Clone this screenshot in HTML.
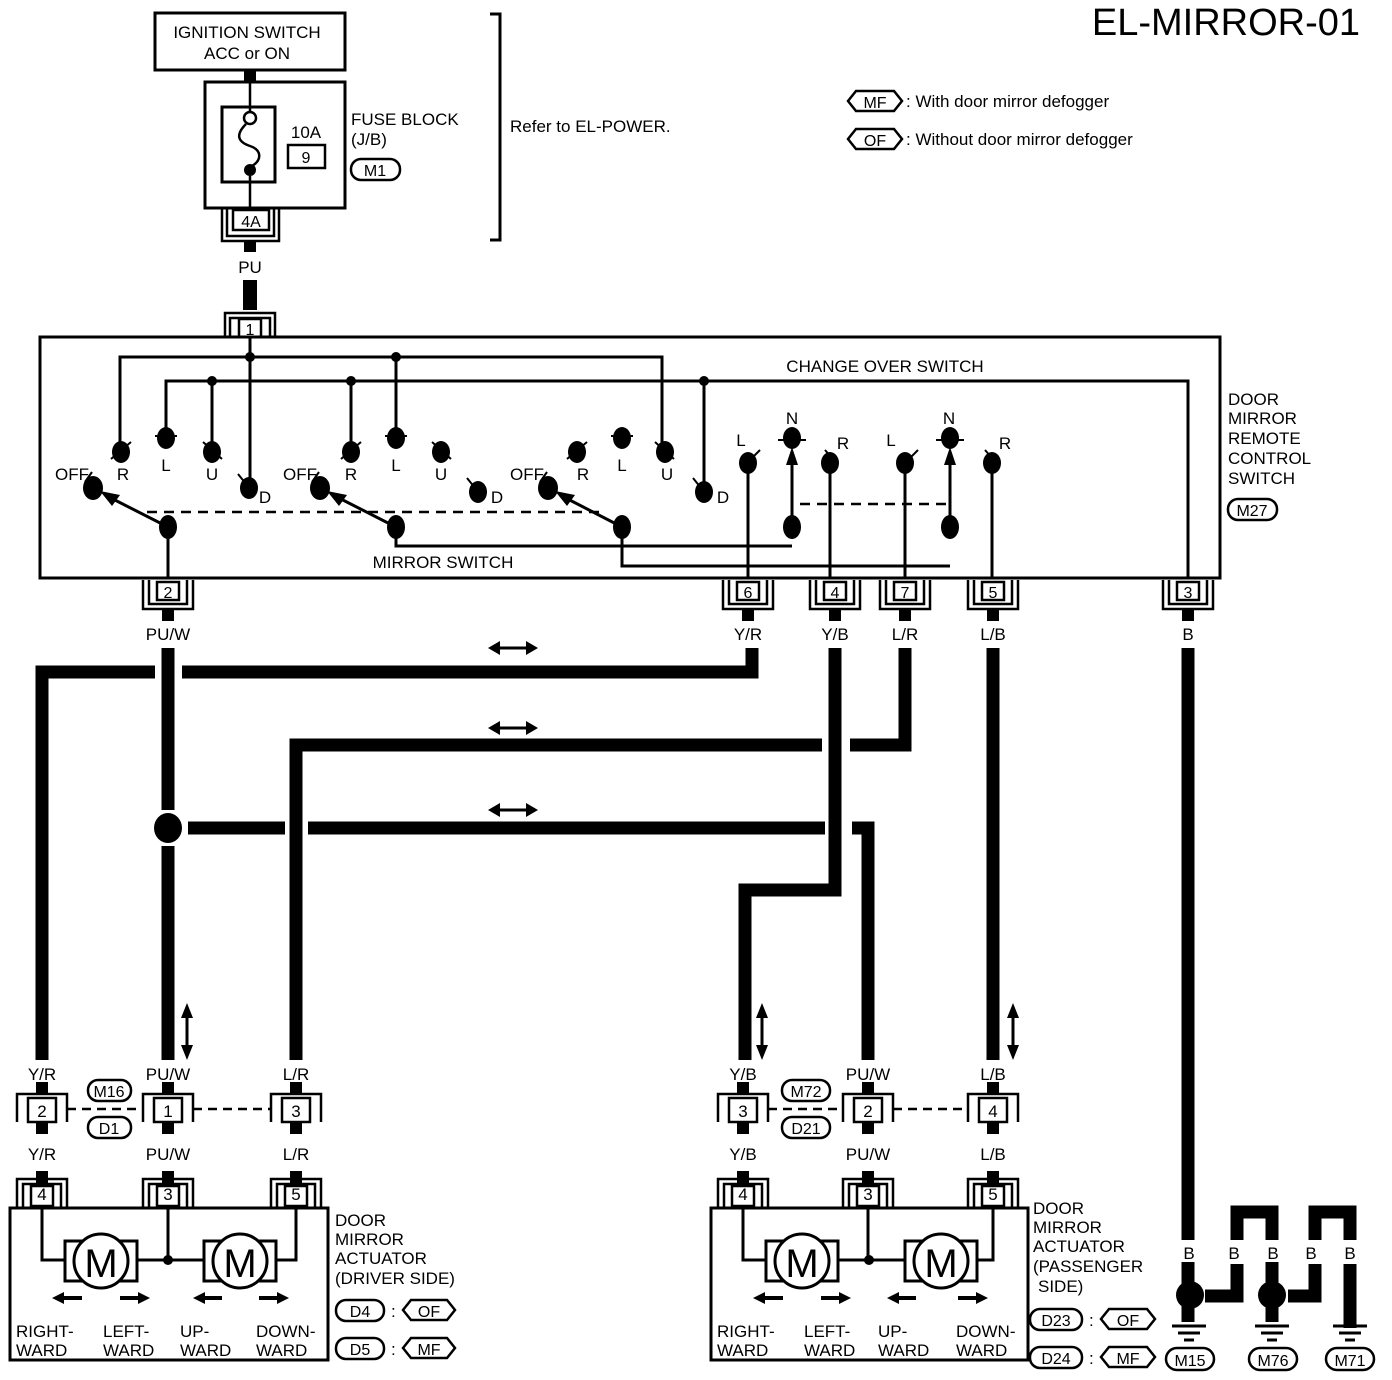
<!DOCTYPE html>
<html><head><meta charset="utf-8"><style>
html,body{margin:0;padding:0;background:#fff}
svg{display:block}
text{font-family:"Liberation Sans",sans-serif;fill:#000}
</style></head><body>
<svg width="1392" height="1380" viewBox="0 0 1392 1380" xmlns="http://www.w3.org/2000/svg">
<defs>
 <g id="cU" fill="none" stroke="#000">
  <rect x="-11" y="2" width="22" height="18" stroke-width="2.5"/>
  <path d="M-19,0 V24 H19 V0 M-25,0 V29 H25 V0" stroke-width="2.5"/>
  <rect x="-6" y="29" width="12" height="12" fill="#000" stroke="none"/>
 </g>
 <g id="cD" fill="none" stroke="#000">
  <rect x="-6" y="-37" width="12" height="12" fill="#000" stroke="none"/>
  <rect x="-11" y="-22" width="22" height="20" stroke-width="2.5"/>
  <path d="M-19,0 V-24 H19 V0 M-25,0 V-29 H25 V0" stroke-width="2.5"/>
 </g>
 <g id="cM" fill="none" stroke="#000">
  <rect x="-6" y="-24" width="12" height="12" fill="#000" stroke="none"/>
  <rect x="-6" y="16" width="12" height="12" fill="#000" stroke="none"/>
  <rect x="-14" y="-8" width="28" height="24" stroke-width="2.5"/>
  <path d="M-25,16 V-12 H25 V16" stroke-width="2.5"/>
 </g>
</defs>

<text x="1360" y="35" font-size="38" text-anchor="end">EL-MIRROR-01</text>
<polygon points="848,101 856,91 894,91 902,101 894,111 856,111" fill="none" stroke="#000" stroke-width="2.5"/>
<text x="875" y="108" font-size="16" text-anchor="middle">MF</text>
<text x="906" y="107" font-size="17">: With door mirror defogger</text>
<polygon points="848,139 856,129 894,129 902,139 894,149 856,149" fill="none" stroke="#000" stroke-width="2.5"/>
<text x="875" y="146" font-size="16" text-anchor="middle">OF</text>
<text x="906" y="145" font-size="17">: Without door mirror defogger</text>

<rect x="155" y="13" width="190" height="57" fill="none" stroke="#000" stroke-width="3"/>
<text x="247" y="38" font-size="17" text-anchor="middle">IGNITION SWITCH</text>
<text x="247" y="59" font-size="17" text-anchor="middle">ACC or ON</text>
<rect x="244" y="70" width="12" height="12" fill="#000"/>
<rect x="205" y="82" width="140" height="126" fill="none" stroke="#000" stroke-width="3"/>
<rect x="222" y="107" width="53" height="75" fill="none" stroke="#000" stroke-width="3"/>
<path d="M250,82 V112 M250,176 V208" stroke="#000" stroke-width="2.5"/>
<circle cx="250" cy="118" r="6" fill="#fff" stroke="#000" stroke-width="2.5"/>
<path d="M246,124 C235,135 238,142 250,146 C262,150 262,160 252,166" fill="none" stroke="#000" stroke-width="2.5"/>
<circle cx="250" cy="170" r="6" fill="#000"/>
<text x="306" y="138" font-size="17" text-anchor="middle">10A</text>
<rect x="288" y="145" width="37" height="23" fill="none" stroke="#000" stroke-width="2.5"/>
<text x="306" y="163" font-size="16" text-anchor="middle">9</text>
<text x="351" y="125" font-size="17">FUSE BLOCK</text>
<text x="351" y="145" font-size="17">(J/B)</text>
<rect x="351" y="159" width="49" height="21" rx="10" fill="none" stroke="#000" stroke-width="2.5"/>
<text x="375" y="176" font-size="16" text-anchor="middle">M1</text>
<path d="M490,14 H500 V240 H490" fill="none" stroke="#000" stroke-width="3"/>
<text x="510" y="132" font-size="17">Refer to EL-POWER.</text>
<rect x="233" y="210" width="36" height="20" fill="none" stroke="#000" stroke-width="2.5"/>
<text x="251" y="227" font-size="16" text-anchor="middle">4A</text>
<path d="M227,208 V236 H274 V208 M222,208 V241 H279 V208" fill="none" stroke="#000" stroke-width="2.5"/>
<rect x="244" y="241" width="12" height="11" fill="#000"/>
<text x="250" y="273" font-size="17" text-anchor="middle">PU</text>
<rect x="243" y="280" width="14" height="30" fill="#000"/>
<path d="M225,337 V313 H275 V337 M230,337 V318 H270 V337" fill="none" stroke="#000" stroke-width="2.5"/>
<rect x="239" y="319" width="22" height="18" fill="none" stroke="#000" stroke-width="2.5"/>
<text x="250" y="335" font-size="16" text-anchor="middle">1</text>

<rect x="40" y="337" width="1180" height="241" fill="none" stroke="#000" stroke-width="3"/>
<g stroke="#000" stroke-width="3" fill="none">
 <path d="M250,337 V488"/>
 <path d="M120,450 V357 H662 V450"/>
 <path d="M396,357 V438"/>
 <path d="M166,438 V381 H1188 V578"/>
 <path d="M212,381 V450 M351,381 V450 M704,381 V492"/>
 <path d="M168,527 V578"/>
 <path d="M396,527 V546 H792"/>
 <path d="M622,527 V566 H950"/>
 <path d="M748,463 V578 M830,463 V578 M905,463 V578 M992,463 V578"/>
 <path d="M792,527 V455 M950,527 V455"/>
 <path d="M168,527 L105,495 M396,527 L333,495 M622,527 L560,495"/>
 <path d="M111,459 L131,442 M155,436 L177,436 M203,442 L222,459 M238,474 L246,484 M85,482 L92,472
          M341,459 L361,442 M385,436 L407,436 M432,442 L451,459 M467,478 L475,488 M312,482 L319,472
          M567,459 L587,442 M611,436 L633,436 M655,442 L674,459 M693,478 L701,488 M540,482 L547,472
          M752,458 L760,450 M778,440 L806,440 M825,450 L832,458 M910,458 L918,450 M936,440 L964,440 M985,450 L992,458" stroke-width="2"/>
</g>
<g fill="#000">
 <circle cx="250" cy="357" r="5"/><circle cx="396" cy="357" r="5"/>
 <circle cx="212" cy="381" r="5"/><circle cx="351" cy="381" r="5"/><circle cx="704" cy="381" r="5"/>
 <ellipse cx="121" cy="452" rx="9" ry="11"/><ellipse cx="166" cy="438" rx="9" ry="11"/><ellipse cx="212" cy="452" rx="9" ry="11"/><ellipse cx="249" cy="488" rx="9" ry="11"/><ellipse cx="93" cy="488" rx="10" ry="12"/>
 <ellipse cx="351" cy="452" rx="9" ry="11"/><ellipse cx="396" cy="438" rx="9" ry="11"/><ellipse cx="441" cy="452" rx="9" ry="11"/><ellipse cx="478" cy="492" rx="9" ry="11"/><ellipse cx="320" cy="488" rx="10" ry="12"/>
 <ellipse cx="577" cy="452" rx="9" ry="11"/><ellipse cx="622" cy="438" rx="9" ry="11"/><ellipse cx="665" cy="452" rx="9" ry="11"/><ellipse cx="704" cy="492" rx="9" ry="11"/><ellipse cx="548" cy="488" rx="10" ry="12"/>
 <ellipse cx="168" cy="527" rx="9" ry="12"/><ellipse cx="396" cy="527" rx="9" ry="12"/><ellipse cx="622" cy="527" rx="9" ry="12"/>
 <ellipse cx="748" cy="463" rx="9" ry="11"/><ellipse cx="792" cy="438" rx="9" ry="11"/><ellipse cx="830" cy="463" rx="9" ry="11"/><ellipse cx="792" cy="527" rx="9" ry="12"/>
 <ellipse cx="905" cy="463" rx="9" ry="11"/><ellipse cx="950" cy="438" rx="9" ry="11"/><ellipse cx="992" cy="463" rx="9" ry="11"/><ellipse cx="950" cy="527" rx="9" ry="12"/>
 <polygon points="792,447 786,465 798,465"/><polygon points="950,447 944,465 956,465"/>
 <polygon points="100,491 120,495 112,506"/><polygon points="327,491 347,495 339,506"/><polygon points="555,491 575,495 567,506"/>
</g>
<path d="M147,512 H600 M800,504 H950" stroke="#000" stroke-width="2.5" stroke-dasharray="10,7"/>
<g font-size="17" text-anchor="middle">
 <text x="72" y="480">OFF</text><text x="123" y="480">R</text><text x="166" y="471">L</text><text x="212" y="480">U</text><text x="265" y="503">D</text>
 <text x="300" y="480">OFF</text><text x="351" y="480">R</text><text x="396" y="471">L</text><text x="441" y="480">U</text><text x="497" y="503">D</text>
 <text x="527" y="480">OFF</text><text x="583" y="480">R</text><text x="622" y="471">L</text><text x="667" y="480">U</text><text x="723" y="503">D</text>
 <text x="741" y="446">L</text><text x="792" y="424">N</text><text x="843" y="449">R</text>
 <text x="891" y="446">L</text><text x="949" y="424">N</text><text x="1005" y="449">R</text>
 <text x="885" y="372">CHANGE OVER SWITCH</text>
 <text x="443" y="568">MIRROR SWITCH</text>
</g>
<g font-size="17">
 <text x="1228" y="405">DOOR</text><text x="1228" y="424">MIRROR</text><text x="1228" y="444">REMOTE</text><text x="1228" y="464">CONTROL</text><text x="1228" y="484">SWITCH</text>
</g>
<rect x="1228" y="499" width="49" height="21" rx="10" fill="none" stroke="#000" stroke-width="2.5"/>
<text x="1252" y="516" font-size="16" text-anchor="middle">M27</text>

<g font-size="16" text-anchor="middle">
 <use href="#cU" x="168" y="580"/><text x="168" y="598">2</text>
 <use href="#cU" x="748" y="580"/><text x="748" y="598">6</text>
 <use href="#cU" x="835" y="580"/><text x="835" y="598">4</text>
 <use href="#cU" x="905" y="580"/><text x="905" y="598">7</text>
 <use href="#cU" x="993" y="580"/><text x="993" y="598">5</text>
 <use href="#cU" x="1188" y="580"/><text x="1188" y="598">3</text>
</g>
<g font-size="17" text-anchor="middle">
 <text x="168" y="640">PU/W</text><text x="748" y="640">Y/R</text><text x="835" y="640">Y/B</text>
 <text x="905" y="640">L/R</text><text x="993" y="640">L/B</text><text x="1188" y="640">B</text>
</g>

<g stroke="#000" stroke-width="13" fill="none" stroke-linejoin="miter">
 <path d="M168,648 V810 M168,846 V1060"/>
 <path d="M42,1060 V672 H155"/>
 <path d="M182,672 H752 V648"/>
 <path d="M905,648 V745 H850"/>
 <path d="M822,745 H296 V1060"/>
 <path d="M188,828 H285 M308,828 H825"/>
 <path d="M852,828 H868 V1060"/>
 <path d="M835,648 V890 H745 V1060"/>
 <path d="M993,648 V1060"/>
 <path d="M1188,648 V1240"/>
</g>
<ellipse cx="168" cy="828" rx="14" ry="15" fill="#000"/>
<g fill="#000" stroke="#000" stroke-width="3">
 <path d="M496,648 H530 M496,728 H530 M496,810 H530"/>
 <polygon points="488,648 500,641 500,655" stroke="none"/><polygon points="538,648 526,641 526,655" stroke="none"/>
 <polygon points="488,728 500,721 500,735" stroke="none"/><polygon points="538,728 526,721 526,735" stroke="none"/>
 <polygon points="488,810 500,803 500,817" stroke="none"/><polygon points="538,810 526,803 526,817" stroke="none"/>
 <path d="M187,1012 V1052 M762,1012 V1052 M1013,1012 V1052"/>
 <polygon points="187,1003 181,1018 193,1018" stroke="none"/><polygon points="187,1060 181,1045 193,1045" stroke="none"/>
 <polygon points="762,1003 756,1018 768,1018" stroke="none"/><polygon points="762,1060 756,1045 768,1045" stroke="none"/>
 <polygon points="1013,1003 1007,1018 1019,1018" stroke="none"/><polygon points="1013,1060 1007,1045 1019,1045" stroke="none"/>
</g>

<g font-size="17" text-anchor="middle">
 <text x="42" y="1080">Y/R</text><text x="168" y="1080">PU/W</text><text x="296" y="1080">L/R</text>
 <text x="42" y="1160">Y/R</text><text x="168" y="1160">PU/W</text><text x="296" y="1160">L/R</text>
</g>
<path d="M67,1109 H143 M193,1109 H271" stroke="#000" stroke-width="2.5" stroke-dasharray="9,6"/>
<g font-size="17" text-anchor="middle">
 <use href="#cM" x="42" y="1106"/><text x="42" y="1117">2</text>
 <use href="#cM" x="168" y="1106"/><text x="168" y="1117">1</text>
 <use href="#cM" x="296" y="1106"/><text x="296" y="1117">3</text>
 <use href="#cD" x="42" y="1208"/><text x="42" y="1200">4</text>
 <use href="#cD" x="168" y="1208"/><text x="168" y="1200">3</text>
 <use href="#cD" x="296" y="1208"/><text x="296" y="1200">5</text>
</g>
<rect x="88" y="1080" width="43" height="21" rx="10" fill="#fff" stroke="#000" stroke-width="2.5"/>
<text x="109" y="1097" font-size="16" text-anchor="middle">M16</text>
<rect x="88" y="1117" width="43" height="21" rx="10" fill="#fff" stroke="#000" stroke-width="2.5"/>
<text x="109" y="1134" font-size="16" text-anchor="middle">D1</text>

<g>
<rect x="10" y="1208" width="318" height="152" fill="none" stroke="#000" stroke-width="3"/>
<path d="M42,1208 V1260 H65 M168,1208 V1260 M137,1260 H205 M296,1208 V1260 H275" fill="none" stroke="#000" stroke-width="3"/>
<circle cx="168" cy="1260" r="5"/>
<rect x="65" y="1241" width="72" height="40" fill="#fff" stroke="#000" stroke-width="3"/>
<circle cx="101" cy="1261" r="27" fill="#fff" stroke="#000" stroke-width="3"/>
<text x="101" y="1277" font-size="40" text-anchor="middle">M</text>
<rect x="204" y="1241" width="72" height="40" fill="#fff" stroke="#000" stroke-width="3"/>
<circle cx="240" cy="1261" r="27" fill="#fff" stroke="#000" stroke-width="3"/>
<text x="240" y="1277" font-size="40" text-anchor="middle">M</text>
<g fill="#000">
 <path d="M52,1298 L64,1292 V1296 H82 V1300 H64 V1304 Z"/>
 <path d="M150,1298 L138,1292 V1296 H120 V1300 H138 V1304 Z"/>
 <path d="M193,1298 L205,1292 V1296 H222 V1300 H205 V1304 Z"/>
 <path d="M289,1298 L277,1292 V1296 H259 V1300 H277 V1304 Z"/>
</g>
<g font-size="17">
 <text x="16" y="1337">RIGHT-</text><text x="16" y="1356">WARD</text>
 <text x="103" y="1337">LEFT-</text><text x="103" y="1356">WARD</text>
 <text x="180" y="1337">UP-</text><text x="180" y="1356">WARD</text>
 <text x="256" y="1337">DOWN-</text><text x="256" y="1356">WARD</text>
</g>
</g>
<g font-size="17">
 <text x="335" y="1226">DOOR</text><text x="335" y="1245">MIRROR</text><text x="335" y="1264">ACTUATOR</text><text x="335" y="1284">(DRIVER SIDE)</text>
</g>
<rect x="336" y="1300" width="48" height="21" rx="10" fill="none" stroke="#000" stroke-width="2.5"/>
<text x="360" y="1317" font-size="16" text-anchor="middle">D4</text>
<text x="391" y="1317" font-size="17">:</text>
<polygon points="403,1310 411,1300 447,1300 455,1310 447,1320 411,1320" fill="none" stroke="#000" stroke-width="2.5"/>
<text x="429" y="1317" font-size="16" text-anchor="middle">OF</text>
<rect x="336" y="1338" width="48" height="21" rx="10" fill="none" stroke="#000" stroke-width="2.5"/>
<text x="360" y="1355" font-size="16" text-anchor="middle">D5</text>
<text x="391" y="1355" font-size="17">:</text>
<polygon points="403,1348 411,1338 447,1338 455,1348 447,1358 411,1358" fill="none" stroke="#000" stroke-width="2.5"/>
<text x="429" y="1355" font-size="16" text-anchor="middle">MF</text>

<g font-size="17" text-anchor="middle">
 <text x="743" y="1080">Y/B</text><text x="868" y="1080">PU/W</text><text x="993" y="1080">L/B</text>
 <text x="743" y="1160">Y/B</text><text x="868" y="1160">PU/W</text><text x="993" y="1160">L/B</text>
</g>
<path d="M768,1109 H843 M893,1109 H968" stroke="#000" stroke-width="2.5" stroke-dasharray="9,6"/>
<g font-size="17" text-anchor="middle">
 <use href="#cM" x="743" y="1106"/><text x="743" y="1117">3</text>
 <use href="#cM" x="868" y="1106"/><text x="868" y="1117">2</text>
 <use href="#cM" x="993" y="1106"/><text x="993" y="1117">4</text>
 <use href="#cD" x="743" y="1208"/><text x="743" y="1200">4</text>
 <use href="#cD" x="868" y="1208"/><text x="868" y="1200">3</text>
 <use href="#cD" x="993" y="1208"/><text x="993" y="1200">5</text>
</g>
<rect x="782" y="1080" width="48" height="21" rx="10" fill="#fff" stroke="#000" stroke-width="2.5"/>
<text x="806" y="1097" font-size="16" text-anchor="middle">M72</text>
<rect x="782" y="1117" width="48" height="21" rx="10" fill="#fff" stroke="#000" stroke-width="2.5"/>
<text x="806" y="1134" font-size="16" text-anchor="middle">D21</text>
<g transform="translate(701,0)">
<rect x="10" y="1208" width="317" height="152" fill="none" stroke="#000" stroke-width="3"/>
<path d="M42,1208 V1260 H65 M167,1208 V1260 M137,1260 H205 M292,1208 V1260 H275" fill="none" stroke="#000" stroke-width="3"/>
<circle cx="168" cy="1260" r="5"/>
<rect x="65" y="1241" width="72" height="40" fill="#fff" stroke="#000" stroke-width="3"/>
<circle cx="101" cy="1261" r="27" fill="#fff" stroke="#000" stroke-width="3"/>
<text x="101" y="1277" font-size="40" text-anchor="middle">M</text>
<rect x="204" y="1241" width="72" height="40" fill="#fff" stroke="#000" stroke-width="3"/>
<circle cx="240" cy="1261" r="27" fill="#fff" stroke="#000" stroke-width="3"/>
<text x="240" y="1277" font-size="40" text-anchor="middle">M</text>
<g fill="#000">
 <path d="M52,1298 L64,1292 V1296 H82 V1300 H64 V1304 Z"/>
 <path d="M150,1298 L138,1292 V1296 H120 V1300 H138 V1304 Z"/>
 <path d="M186,1298 L198,1292 V1296 H215 V1300 H198 V1304 Z"/>
 <path d="M287,1298 L275,1292 V1296 H257 V1300 H275 V1304 Z"/>
</g>
<g font-size="17">
 <text x="16" y="1337">RIGHT-</text><text x="16" y="1356">WARD</text>
 <text x="103" y="1337">LEFT-</text><text x="103" y="1356">WARD</text>
 <text x="177" y="1337">UP-</text><text x="177" y="1356">WARD</text>
 <text x="255" y="1337">DOWN-</text><text x="255" y="1356">WARD</text>
</g>
</g>
<g font-size="17">
 <text x="1033" y="1214">DOOR</text><text x="1033" y="1233">MIRROR</text><text x="1033" y="1252">ACTUATOR</text><text x="1033" y="1272">(PASSENGER</text><text x="1038" y="1292">SIDE)</text>
</g>
<rect x="1030" y="1309" width="52" height="21" rx="10" fill="none" stroke="#000" stroke-width="2.5"/>
<text x="1056" y="1326" font-size="16" text-anchor="middle">D23</text>
<text x="1089" y="1326" font-size="17">:</text>
<polygon points="1101,1319 1109,1309 1147,1309 1155,1319 1147,1329 1109,1329" fill="none" stroke="#000" stroke-width="2.5"/>
<text x="1128" y="1326" font-size="16" text-anchor="middle">OF</text>
<rect x="1030" y="1347" width="52" height="21" rx="10" fill="none" stroke="#000" stroke-width="2.5"/>
<text x="1056" y="1364" font-size="16" text-anchor="middle">D24</text>
<text x="1089" y="1364" font-size="17">:</text>
<polygon points="1101,1357 1109,1347 1147,1347 1155,1357 1147,1367 1109,1367" fill="none" stroke="#000" stroke-width="2.5"/>
<text x="1128" y="1364" font-size="16" text-anchor="middle">MF</text>

<g stroke="#000" stroke-width="13" fill="none">
 <path d="M1188,1262 V1285"/>
 <path d="M1205,1296 H1237 V1264"/>
 <path d="M1237,1240 V1212 H1272 V1240"/>
 <path d="M1272,1262 V1285"/>
 <path d="M1288,1296 H1315 V1264"/>
 <path d="M1315,1240 V1212 H1350 V1240"/>
 <path d="M1350,1264 V1328"/>
 <path d="M1188,1305 V1322 M1272,1305 V1322"/>
</g>
<circle cx="1190" cy="1295" r="14" fill="#000"/>
<circle cx="1272" cy="1295" r="14" fill="#000"/>
<g font-size="17" text-anchor="middle">
 <text x="1189" y="1259">B</text><text x="1234" y="1259">B</text><text x="1273" y="1259">B</text><text x="1311" y="1259">B</text><text x="1350" y="1259">B</text>
</g>
<g stroke="#000" stroke-width="3">
 <path d="M1172,1326 H1206 M1178,1333 H1200 M1184,1340 H1194"/>
 <path d="M1255,1326 H1289 M1261,1333 H1283 M1267,1340 H1277"/>
 <path d="M1333,1326 H1367 M1339,1333 H1361 M1345,1340 H1355"/>
</g>
<rect x="1166" y="1348" width="48" height="22" rx="11" fill="none" stroke="#000" stroke-width="2.5"/>
<text x="1190" y="1366" font-size="16" text-anchor="middle">M15</text>
<rect x="1249" y="1348" width="48" height="22" rx="11" fill="none" stroke="#000" stroke-width="2.5"/>
<text x="1273" y="1366" font-size="16" text-anchor="middle">M76</text>
<rect x="1326" y="1348" width="48" height="22" rx="11" fill="none" stroke="#000" stroke-width="2.5"/>
<text x="1350" y="1366" font-size="16" text-anchor="middle">M71</text>
</svg>
</body></html>
